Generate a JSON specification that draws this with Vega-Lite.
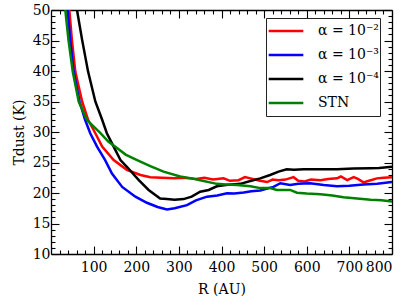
{
  "$schema": "https://vega.github.io/schema/vega-lite/v6.json",
  "width": 341,
  "height": 244,
  "autosize": {"type": "none"},
  "padding": {"left": 51, "top": 10, "right": 15, "bottom": 51},
  "config": {
    "view": {"stroke": null},
    "font": "DejaVu Serif",
    "axis": {"grid": false, "labelFont": "DejaVu Serif", "titleFont": "DejaVu Serif", "labelFontSize": 14, "titleFontSize": 14, "titleFontWeight": "normal", "labelColor": "#000", "titleColor": "#000", "tickColor": "#000", "domainColor": "#000", "domainWidth": 1.3, "tickWidth": 1.1},
    "legend": {"labelFont": "DejaVu Serif", "labelFontSize": 14, "labelColor": "#000"}
  },
  "data": {"values": [
    {"R": 40, "T": 52.5, "s": "α = 10⁻²"}, {"R": 43, "T": 50, "s": "α = 10⁻²"}, {"R": 49, "T": 45.1, "s": "α = 10⁻²"}, {"R": 57, "T": 39.9, "s": "α = 10⁻²"}, {"R": 73, "T": 35, "s": "α = 10⁻²"}, {"R": 87, "T": 32, "s": "α = 10⁻²"}, {"R": 104, "T": 29.8, "s": "α = 10⁻²"}, {"R": 120, "T": 27.6, "s": "α = 10⁻²"}, {"R": 147, "T": 25.4, "s": "α = 10⁻²"}, {"R": 178, "T": 23.8, "s": "α = 10⁻²"}, {"R": 210, "T": 22.95, "s": "α = 10⁻²"}, {"R": 233, "T": 22.6, "s": "α = 10⁻²"}, {"R": 260, "T": 22.5, "s": "α = 10⁻²"}, {"R": 290, "T": 22.4, "s": "α = 10⁻²"}, {"R": 311, "T": 22.5, "s": "α = 10⁻²"}, {"R": 340, "T": 22.3, "s": "α = 10⁻²"}, {"R": 360, "T": 22.5, "s": "α = 10⁻²"}, {"R": 380, "T": 22.2, "s": "α = 10⁻²"}, {"R": 405, "T": 22.4, "s": "α = 10⁻²"}, {"R": 420, "T": 22.0, "s": "α = 10⁻²"}, {"R": 440, "T": 22.1, "s": "α = 10⁻²"}, {"R": 455, "T": 22.6, "s": "α = 10⁻²"}, {"R": 468, "T": 22.4, "s": "α = 10⁻²"}, {"R": 490, "T": 22.0, "s": "α = 10⁻²"}, {"R": 507, "T": 21.8, "s": "α = 10⁻²"}, {"R": 520, "T": 22.2, "s": "α = 10⁻²"}, {"R": 534, "T": 22.1, "s": "α = 10⁻²"}, {"R": 550, "T": 22.2, "s": "α = 10⁻²"}, {"R": 569, "T": 22.6, "s": "α = 10⁻²"}, {"R": 580, "T": 22.0, "s": "α = 10⁻²"}, {"R": 595, "T": 21.9, "s": "α = 10⁻²"}, {"R": 610, "T": 22.2, "s": "α = 10⁻²"}, {"R": 632, "T": 22.1, "s": "α = 10⁻²"}, {"R": 650, "T": 22.3, "s": "α = 10⁻²"}, {"R": 671, "T": 22.4, "s": "α = 10⁻²"}, {"R": 680, "T": 22.7, "s": "α = 10⁻²"}, {"R": 695, "T": 22.1, "s": "α = 10⁻²"}, {"R": 710, "T": 22.6, "s": "α = 10⁻²"}, {"R": 720, "T": 22.3, "s": "α = 10⁻²"}, {"R": 733, "T": 21.75, "s": "α = 10⁻²"}, {"R": 750, "T": 22.1, "s": "α = 10⁻²"}, {"R": 765, "T": 22.4, "s": "α = 10⁻²"}, {"R": 780, "T": 22.5, "s": "α = 10⁻²"}, {"R": 800, "T": 22.6, "s": "α = 10⁻²"},
    {"R": 36, "T": 52, "s": "α = 10⁻³"}, {"R": 39, "T": 50, "s": "α = 10⁻³"}, {"R": 45, "T": 45.1, "s": "α = 10⁻³"}, {"R": 53, "T": 39.9, "s": "α = 10⁻³"}, {"R": 67, "T": 35, "s": "α = 10⁻³"}, {"R": 80, "T": 32, "s": "α = 10⁻³"}, {"R": 92, "T": 29.8, "s": "α = 10⁻³"}, {"R": 108, "T": 27.6, "s": "α = 10⁻³"}, {"R": 127, "T": 25.4, "s": "α = 10⁻³"}, {"R": 143, "T": 23.2, "s": "α = 10⁻³"}, {"R": 167, "T": 21.0, "s": "α = 10⁻³"}, {"R": 198, "T": 19.4, "s": "α = 10⁻³"}, {"R": 225, "T": 18.4, "s": "α = 10⁻³"}, {"R": 250, "T": 17.7, "s": "α = 10⁻³"}, {"R": 272, "T": 17.3, "s": "α = 10⁻³"}, {"R": 290, "T": 17.5, "s": "α = 10⁻³"}, {"R": 319, "T": 18.0, "s": "α = 10⁻³"}, {"R": 340, "T": 18.8, "s": "α = 10⁻³"}, {"R": 366, "T": 19.4, "s": "α = 10⁻³"}, {"R": 390, "T": 19.6, "s": "α = 10⁻³"}, {"R": 413, "T": 19.95, "s": "α = 10⁻³"}, {"R": 430, "T": 19.9, "s": "α = 10⁻³"}, {"R": 452, "T": 20.1, "s": "α = 10⁻³"}, {"R": 470, "T": 20.3, "s": "α = 10⁻³"}, {"R": 491, "T": 20.4, "s": "α = 10⁻³"}, {"R": 505, "T": 20.7, "s": "α = 10⁻³"}, {"R": 522, "T": 21.0, "s": "α = 10⁻³"}, {"R": 538, "T": 21.6, "s": "α = 10⁻³"}, {"R": 561, "T": 21.3, "s": "α = 10⁻³"}, {"R": 580, "T": 21.5, "s": "α = 10⁻³"}, {"R": 608, "T": 21.6, "s": "α = 10⁻³"}, {"R": 640, "T": 21.3, "s": "α = 10⁻³"}, {"R": 671, "T": 21.1, "s": "α = 10⁻³"}, {"R": 700, "T": 21.2, "s": "α = 10⁻³"}, {"R": 733, "T": 21.4, "s": "α = 10⁻³"}, {"R": 765, "T": 21.5, "s": "α = 10⁻³"}, {"R": 800, "T": 21.8, "s": "α = 10⁻³"},
    {"R": 55, "T": 53, "s": "α = 10⁻⁴"}, {"R": 61, "T": 50, "s": "α = 10⁻⁴"}, {"R": 73, "T": 45.1, "s": "α = 10⁻⁴"}, {"R": 87, "T": 39.9, "s": "α = 10⁻⁴"}, {"R": 104, "T": 35, "s": "α = 10⁻⁴"}, {"R": 120, "T": 32, "s": "α = 10⁻⁴"}, {"R": 131, "T": 29.8, "s": "α = 10⁻⁴"}, {"R": 147, "T": 27.6, "s": "α = 10⁻⁴"}, {"R": 163, "T": 25.4, "s": "α = 10⁻⁴"}, {"R": 178, "T": 24.3, "s": "α = 10⁻⁴"}, {"R": 206, "T": 22.1, "s": "α = 10⁻⁴"}, {"R": 229, "T": 20.5, "s": "α = 10⁻⁴"}, {"R": 256, "T": 19.1, "s": "α = 10⁻⁴"}, {"R": 272, "T": 19.0, "s": "α = 10⁻⁴"}, {"R": 290, "T": 18.9, "s": "α = 10⁻⁴"}, {"R": 311, "T": 19.0, "s": "α = 10⁻⁴"}, {"R": 330, "T": 19.4, "s": "α = 10⁻⁴"}, {"R": 350, "T": 20.2, "s": "α = 10⁻⁴"}, {"R": 370, "T": 20.5, "s": "α = 10⁻⁴"}, {"R": 389, "T": 21.1, "s": "α = 10⁻⁴"}, {"R": 410, "T": 21.3, "s": "α = 10⁻⁴"}, {"R": 444, "T": 21.5, "s": "α = 10⁻⁴"}, {"R": 470, "T": 22.0, "s": "α = 10⁻⁴"}, {"R": 491, "T": 22.4, "s": "α = 10⁻⁴"}, {"R": 514, "T": 22.95, "s": "α = 10⁻⁴"}, {"R": 534, "T": 23.5, "s": "α = 10⁻⁴"}, {"R": 553, "T": 23.9, "s": "α = 10⁻⁴"}, {"R": 570, "T": 23.8, "s": "α = 10⁻⁴"}, {"R": 593, "T": 23.9, "s": "α = 10⁻⁴"}, {"R": 630, "T": 23.9, "s": "α = 10⁻⁴"}, {"R": 671, "T": 23.9, "s": "α = 10⁻⁴"}, {"R": 710, "T": 24.0, "s": "α = 10⁻⁴"}, {"R": 749, "T": 24.05, "s": "α = 10⁻⁴"}, {"R": 770, "T": 24.1, "s": "α = 10⁻⁴"}, {"R": 800, "T": 24.3, "s": "α = 10⁻⁴"},
    {"R": 30, "T": 52.5, "s": "STN"}, {"R": 33.6, "T": 50, "s": "STN"}, {"R": 41, "T": 45.1, "s": "STN"}, {"R": 51, "T": 39.9, "s": "STN"}, {"R": 65, "T": 35, "s": "STN"}, {"R": 84, "T": 32, "s": "STN"}, {"R": 116, "T": 29.8, "s": "STN"}, {"R": 135, "T": 28.4, "s": "STN"}, {"R": 151, "T": 27.6, "s": "STN"}, {"R": 175, "T": 26.3, "s": "STN"}, {"R": 202, "T": 25.4, "s": "STN"}, {"R": 233, "T": 24.4, "s": "STN"}, {"R": 264, "T": 23.5, "s": "STN"}, {"R": 303, "T": 22.7, "s": "STN"}, {"R": 330, "T": 22.4, "s": "STN"}, {"R": 350, "T": 22.1, "s": "STN"}, {"R": 389, "T": 21.5, "s": "STN"}, {"R": 410, "T": 21.4, "s": "STN"}, {"R": 436, "T": 21.3, "s": "STN"}, {"R": 468, "T": 21.1, "s": "STN"}, {"R": 491, "T": 20.8, "s": "STN"}, {"R": 514, "T": 20.8, "s": "STN"}, {"R": 530, "T": 20.5, "s": "STN"}, {"R": 561, "T": 20.5, "s": "STN"}, {"R": 577, "T": 20.05, "s": "STN"}, {"R": 600, "T": 19.9, "s": "STN"}, {"R": 632, "T": 19.8, "s": "STN"}, {"R": 660, "T": 19.6, "s": "STN"}, {"R": 686, "T": 19.3, "s": "STN"}, {"R": 718, "T": 19.1, "s": "STN"}, {"R": 750, "T": 18.9, "s": "STN"}, {"R": 775, "T": 18.8, "s": "STN"}, {"R": 800, "T": 18.6, "s": "STN"}
  ]},
  "resolve": {"axis": {"x": "independent", "y": "independent"}},
  "layer": [
    {
      "mark": {"type": "line", "strokeWidth": 2.5, "clip": true},
      "encoding": {
        "x": {"field": "R", "type": "quantitative", "scale": {"domain": [0, 800], "nice": false, "zero": false},
              "axis": {"orient": "bottom", "values": [100, 200, 300, 400, 500, 600, 700, 800], "tickSize": -8, "labelPadding": 14, "title": "R (AU)", "titlePadding": 8, "domain": true}},
        "y": {"field": "T", "type": "quantitative", "scale": {"domain": [10, 50], "nice": false, "zero": false},
              "axis": {"orient": "left", "values": [10, 15, 20, 25, 30, 35, 40, 45, 50], "tickSize": -8, "labelPadding": 9, "title": "Tdust (K)", "titlePadding": 6, "domain": true}},
        "color": {"field": "s", "type": "nominal", "sort": null,
                  "scale": {"domain": ["α = 10⁻²", "α = 10⁻³", "α = 10⁻⁴", "STN"], "range": ["#ff0000", "#0000ff", "#000000", "#008000"]},
                  "legend": {"title": null, "orient": "none", "legendX": 215, "legendY": 8, "symbolType": "stroke", "symbolSize": 1200, "symbolStrokeWidth": 2.5, "clipHeight": 24, "rowPadding": 0, "labelOffset": 13, "padding": 1, "strokeColor": "#222", "fillColor": "#ffffff", "cornerRadius": 0}}
      }
    },
    {
      "mark": {"type": "line", "strokeOpacity": 0},
      "encoding": {
        "x": {"field": "R", "type": "quantitative", "axis": {"orient": "bottom", "values": [20, 40, 60, 80, 120, 140, 160, 180, 220, 240, 260, 280, 320, 340, 360, 380, 420, 440, 460, 480, 520, 540, 560, 580, 620, 640, 660, 680, 720, 740, 760, 780], "tickSize": -4, "labels": false, "domain": false, "title": null}},
        "y": {"field": "T", "type": "quantitative", "axis": {"orient": "left", "values": [11, 12, 13, 14, 16, 17, 18, 19, 21, 22, 23, 24, 26, 27, 28, 29, 31, 32, 33, 34, 36, 37, 38, 39, 41, 42, 43, 44, 46, 47, 48, 49], "tickSize": -4, "labels": false, "domain": false, "title": null}}
      }
    },
    {
      "mark": {"type": "line", "strokeOpacity": 0},
      "encoding": {
        "x": {"field": "R", "type": "quantitative", "axis": {"orient": "top", "values": [100, 200, 300, 400, 500, 600, 700, 800], "tickSize": -8, "labels": false, "domain": true, "title": null}},
        "y": {"field": "T", "type": "quantitative", "axis": {"orient": "right", "values": [10, 15, 20, 25, 30, 35, 40, 45, 50], "tickSize": -8, "labels": false, "domain": true, "title": null}}
      }
    },
    {
      "mark": {"type": "line", "strokeOpacity": 0},
      "encoding": {
        "x": {"field": "R", "type": "quantitative", "axis": {"orient": "top", "values": [20, 40, 60, 80, 120, 140, 160, 180, 220, 240, 260, 280, 320, 340, 360, 380, 420, 440, 460, 480, 520, 540, 560, 580, 620, 640, 660, 680, 720, 740, 760, 780], "tickSize": -4, "labels": false, "domain": false, "title": null}},
        "y": {"field": "T", "type": "quantitative", "axis": {"orient": "right", "values": [11, 12, 13, 14, 16, 17, 18, 19, 21, 22, 23, 24, 26, 27, 28, 29, 31, 32, 33, 34, 36, 37, 38, 39, 41, 42, 43, 44, 46, 47, 48, 49], "tickSize": -4, "labels": false, "domain": false, "title": null}}
      }
    }
  ]
}
